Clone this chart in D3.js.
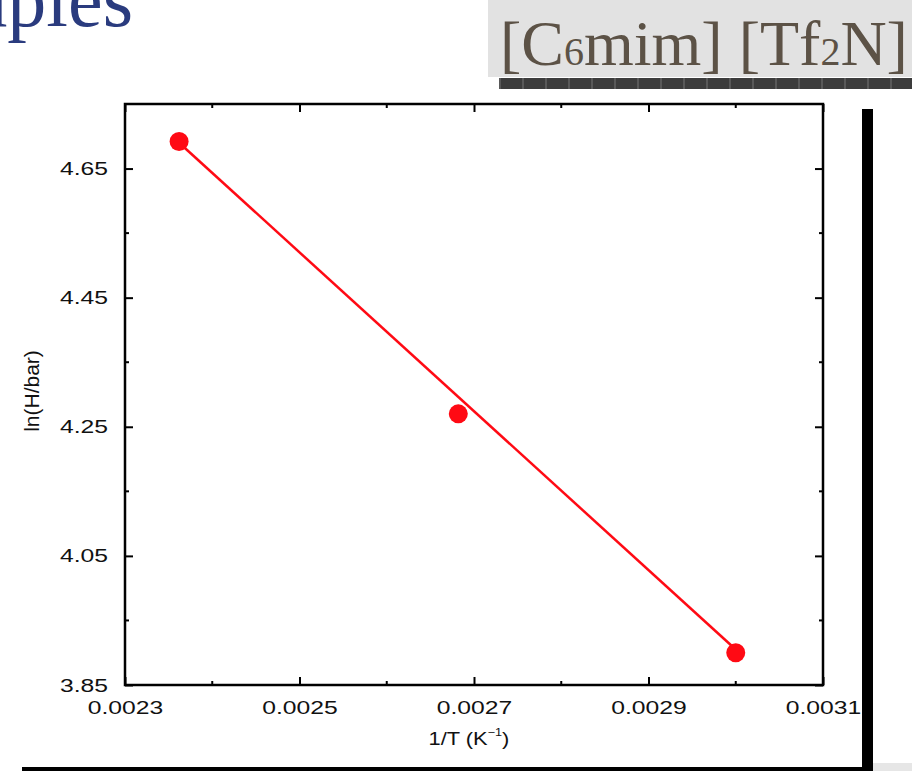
<!DOCTYPE html>
<html>
<head>
<meta charset="utf-8">
<script src="https://cdn.jsdelivr.net/npm/d3@7"></script>
<style>
  body { margin: 0; background: #fff; }
  svg { display: block; }
</style>
</head>
<body>
<svg id="chart" width="912" height="771"></svg>
<script>
// data
const invT = [0.002362, 0.002682, 0.0030]
const lnH = [4.692, 4.270, 3.900]
const fitInvT = [0.002362, 0.0030]
const fitLnH = [4.690, 3.905]
const xTicks = [0.0023, 0.0025, 0.0027, 0.0029, 0.0031]
const yTicks = [3.85, 4.05, 4.25, 4.45, 4.65]
const xMinor = [0.0024, 0.0026, 0.0028, 0.0030]
const yMinor = [3.95, 4.15, 4.35, 4.55]

const svg = d3.select('#chart')
const plot = { left: 125, top: 104, right: 823, bottom: 685 }

const x = d3.scaleLinear().domain([0.0023, 0.0031]).range([plot.left, plot.right])
const y = d3.scaleLinear().domain([3.85, 4.75]).range([plot.bottom, plot.top])

// slide decorations (title runs off the top-left like in the slide)
svg.append('text')
  .attr('x', 133).attr('y', 26)
  .attr('text-anchor', 'end')
  .attr('font-family', 'Liberation Serif, serif')
  .attr('font-size', 78)
  .attr('fill', '#2a3b7e')
  .text('Examples')

svg.append('rect')
  .attr('x', 488).attr('y', 0).attr('width', 424).attr('height', 77)
  .attr('fill', '#e2e2e2')

const label = svg.append('text')
  .attr('x', 500).attr('y', 65)
  .attr('font-family', 'Liberation Serif, serif')
  .attr('font-size', 64)
  .attr('fill', '#5c5246')
label.append('tspan').text('[C')
label.append('tspan').attr('font-size', 40).text('6')
label.append('tspan').text('mim] [Tf')
label.append('tspan').attr('font-size', 40).text('2')
label.append('tspan').text('N]')

// dark strip under the label
svg.append('rect')
  .attr('x', 499).attr('y', 78).attr('width', 413).attr('height', 11)
  .attr('fill', '#3c3c3c')
svg.append('g')
  .selectAll('line')
  .data(d3.range(500, 912, 23))
  .join('line')
  .attr('x1', d => d).attr('x2', d => d)
  .attr('y1', 78).attr('y2', 89)
  .attr('stroke', '#777').attr('stroke-width', 1)

svg.append('rect')
  .attr('x', 862).attr('y', 109).attr('width', 11).attr('height', 662)
  .attr('fill', '#000')
svg.append('rect')
  .attr('x', 22).attr('y', 767).attr('width', 851).attr('height', 4)
  .attr('fill', '#000')
svg.append('rect')
  .attr('x', 873).attr('y', 763).attr('width', 39).attr('height', 8)
  .attr('fill', '#e6e6e6')

// axes (ticks point inward, mirrored on top/right)
const fmtX = d3.format('.4f')
const fmtY = d3.format('.2f')
const stretch = 1.3

const tickFont = g => g.selectAll('text')
  .attr('font-family', 'Liberation Sans, Arial, sans-serif')
  .attr('font-size', 19)
  .attr('fill', '#111')

svg.append('g')
  .attr('transform', `translate(0,${plot.bottom})`)
  .call(d3.axisBottom(x).tickValues(xTicks).tickFormat(fmtX).tickSizeInner(-8).tickSizeOuter(0))
  .call(tickFont)
  .call(g => g.selectAll('text').attr('y', 16).attr('transform', `scale(${stretch},1)`))
  .call(g => g.select('.domain').remove())

svg.append('g')
  .attr('transform', `translate(${plot.left},0)`)
  .call(d3.axisLeft(y).tickValues(yTicks).tickFormat(fmtY).tickSizeInner(-8).tickSizeOuter(0))
  .call(tickFont)
  .call(g => g.selectAll('text').attr('x', -17 / stretch).attr('transform', `scale(${stretch},1)`))
  .call(g => g.select('.domain').remove())

svg.append('g')
  .attr('transform', `translate(0,${plot.top})`)
  .call(d3.axisTop(x).tickValues(xTicks).tickFormat('').tickSizeInner(-8).tickSizeOuter(0))
  .call(g => g.select('.domain').remove())

svg.append('g')
  .attr('transform', `translate(${plot.right},0)`)
  .call(d3.axisRight(y).tickValues(yTicks).tickFormat('').tickSizeInner(-8).tickSizeOuter(0))
  .call(g => g.select('.domain').remove())

// minor ticks
const minor = svg.append('g').attr('stroke', '#000').attr('stroke-width', 2)
minor.selectAll('.mxb').data(xMinor).join('line')
  .attr('x1', d => x(d)).attr('x2', d => x(d))
  .attr('y1', plot.bottom).attr('y2', plot.bottom - 4)
minor.selectAll('.mxt').data(xMinor).join('line')
  .attr('x1', d => x(d)).attr('x2', d => x(d))
  .attr('y1', plot.top).attr('y2', plot.top + 4)
minor.selectAll('.myl').data(yMinor).join('line')
  .attr('y1', d => y(d)).attr('y2', d => y(d))
  .attr('x1', plot.left).attr('x2', plot.left + 4)
minor.selectAll('.myr').data(yMinor).join('line')
  .attr('y1', d => y(d)).attr('y2', d => y(d))
  .attr('x1', plot.right).attr('x2', plot.right - 4)

svg.selectAll('.tick line').attr('stroke', '#000').attr('stroke-width', 2)

svg.append('rect')
  .attr('x', plot.left).attr('y', plot.top)
  .attr('width', plot.right - plot.left).attr('height', plot.bottom - plot.top)
  .attr('fill', 'none').attr('stroke', '#000').attr('stroke-width', 2.5)

// axis titles
svg.append('text')
  .attr('transform', 'translate(469,745) scale(1.15,1)')
  .attr('text-anchor', 'middle')
  .attr('font-family', 'Liberation Sans, Arial, sans-serif')
  .attr('font-size', 19)
  .attr('fill', '#111')
  .call(t => {
    t.append('tspan').text('1/T (K')
    t.append('tspan').attr('font-size', 11).attr('dy', -9).text('−1')
    t.append('tspan').attr('dy', 9).text(')')
  })

svg.append('text')
  .attr('transform', 'translate(39,391) rotate(-90)')
  .attr('text-anchor', 'middle')
  .attr('font-family', 'Liberation Sans, Arial, sans-serif')
  .attr('font-size', 21)
  .attr('fill', '#111')
  .text('ln(H/bar)')

// fit line and points
const fit = fitInvT.map((d, i) => [d, fitLnH[i]])
svg.append('path')
  .datum(fit)
  .attr('d', d3.line().x(d => x(d[0])).y(d => y(d[1])))
  .attr('stroke', '#ff0a14').attr('stroke-width', 2.5).attr('fill', 'none')

svg.append('g')
  .selectAll('circle')
  .data(invT.map((d, i) => [d, lnH[i]]))
  .join('circle')
  .attr('cx', d => x(d[0])).attr('cy', d => y(d[1]))
  .attr('r', 9.5)
  .attr('fill', '#ff0a14')
</script>
</body>
</html>
